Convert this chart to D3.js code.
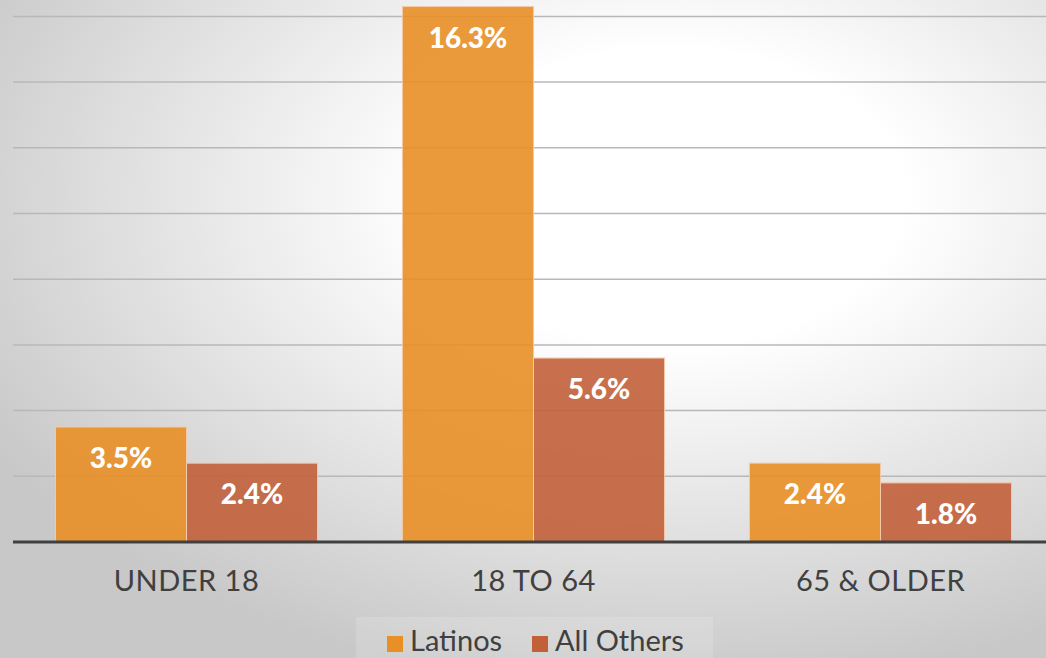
<!DOCTYPE html>
<meta charset="utf-8">
<script src="https://d3js.org/d3.v7.min.js"></script>
<style>
 body { margin: 0; font-family: 'Lato', 'Open Sans', sans-serif; }
</style>
<div id="chart"></div>
<script>
 const categories = ["UNDER 18", "18 TO 64", "65 & OLDER"];
 const series = ["Latinos", "All Others"];
 const latinos = [3.5, 16.3, 2.4];
 const allOthers = [2.4, 5.6, 1.8];
 const gridTicks = [0, 2, 4, 6, 8, 10, 12, 14, 16, 18];

 const colorLatinos = "#e88f25";
 const colorOthers = "#c2603a";
 const colorText = "#404040";

 const W = 1046, H = 658;
 const plot = {left: 13, right: 1054, base: 542};

 const svg = d3.select("#chart").append("svg")
   .attr("width", W).attr("height", H);

 // background gradient
 const defs = svg.append("defs");
 const grad = defs.append("radialGradient").attr("id", "bg")
   .attr("cx", "64%").attr("cy", "30%").attr("r", "75%");
 grad.append("stop").attr("offset", "0%").attr("stop-color", "#ffffff");
 grad.append("stop").attr("offset", "30%").attr("stop-color", "#ffffff");
 grad.append("stop").attr("offset", "100%").attr("stop-color", "#c8c8c8");
 svg.append("rect").attr("width", W).attr("height", H).attr("fill", "url(#bg)");

 const x0 = d3.scaleBand().domain(categories).range([plot.left, plot.right]).paddingInner(0).paddingOuter(0);
 const x1 = d3.scaleBand().domain(series).range([0, x0.bandwidth()]).paddingOuter(0.324).paddingInner(0);
 const y = d3.scaleLinear().domain([0, 18]).range([plot.base, plot.base - 18 * 32.85]);

 // gridlines
 svg.append("g").selectAll("line").data(gridTicks.slice(1)).join("line")
   .attr("x1", plot.left).attr("x2", W)
   .attr("y1", d => y(d)).attr("y2", d => y(d))
   .attr("stroke", "#b8b8b8").attr("stroke-width", 1.5);

 const rows = categories.map((c, i) => ({cat: c, values: [
   {key: "Latinos", v: latinos[i]}, {key: "All Others", v: allOthers[i]}]}));
 const color = d3.scaleOrdinal().domain(series).range([colorLatinos, colorOthers]);

 const groups = svg.append("g").selectAll("g").data(rows).join("g")
   .attr("transform", d => `translate(${x0(d.cat)},0)`);

 groups.selectAll("rect").data(d => d.values).join("rect")
   .attr("x", d => x1(d.key)).attr("width", x1.bandwidth())
   .attr("y", d => y(d.v)).attr("height", d => y(0) - y(d.v))
   .attr("fill", d => color(d.key)).attr("fill-opacity", 0.9)
   .attr("stroke", "#f3c9a8").attr("stroke-width", 1);

 groups.selectAll("text").data(d => d.values).join("text")
   .attr("x", d => x1(d.key) + x1.bandwidth() / 2)
   .attr("y", d => y(d.v) + 34)
   .attr("text-anchor", "middle").attr("dominant-baseline", "middle")
   .style("font-size", "28px").style("font-weight", "900").style("fill", "#fff")
   .text(d => d.v.toFixed(1) + "%");

 // baseline axis
 svg.append("g").attr("transform", `translate(0,${plot.base})`)
   .call(d3.axisBottom(x0).tickSize(0).tickPadding(28))
   .call(g => g.select(".domain").attr("stroke", colorText).attr("stroke-width", 3)
     .attr("d", `M${plot.left},0H${W}`))
   .call(g => g.selectAll("text").style("font-size", "29px").style("font-family", "Lato")
     .style("letter-spacing", "0.5px").style("fill", colorText));

 // legend
 const leg = svg.append("g");
 leg.append("rect").attr("x", 356).attr("y", 617).attr("width", 357).attr("height", 41)
   .attr("fill", "#ffffff").attr("fill-opacity", 0.15);
 const legX = [387, 532];
 series.forEach((s, i) => {
   leg.append("rect").attr("x", legX[i]).attr("y", 636).attr("width", 16).attr("height", 16)
     .attr("fill", color(s));
   leg.append("text").attr("x", legX[i] + 23).attr("y", 644)
     .attr("dominant-baseline", "middle")
     .style("font-size", "29px").style("fill", colorText).text(s);
 });
</script>
